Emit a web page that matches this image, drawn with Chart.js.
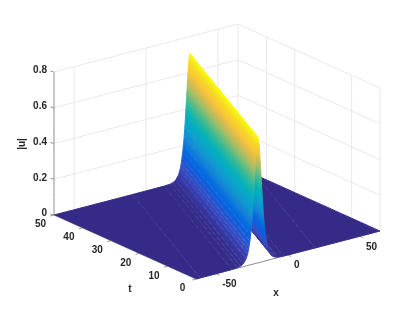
<!DOCTYPE html>
<html><head><meta charset="utf-8">
<style>html,body{margin:0;padding:0;background:#fff}canvas{display:block}</style>
<script src="https://cdn.jsdelivr.net/npm/chart.js@4"></script></head>
<body><canvas id="c" width="419" height="314"></canvas>
<script>
// axes
const xTicks=[-50,0,50];
const tTicks=[50,40,30,20,10,0];
const zTicks=[0,0.2,0.4,0.6,0.8];
const zTickLabels=['0','0.2','0.4','0.6','0.8'];
const xWallTicks=[-50,0,50];
const tWallTicks=[40,30,10];
const xRange=[-64,64];
const tRange=[0,50];
// ridge centre (x) at t=0 and t=50
const ridgeX=[-21,30.6];
// |u| across the ridge, distance from its centre (far side to near side)
const profileXi=[200,40,18,14,12,10,8,7,6.5,6,5.5,5,4.5,4,3.5,3,2.5,2,1.5,1,0.5,0,-0.5,-1,-1.5,-2,-2.5,-3,-3.5,-4,-4.5,-5,-5.5,-6,-6.5,-7,-8,-10,-12,-14,-18,-40,-200];
const profileU=[0,0,0.001,0.003,0.007,0.017,0.042,0.067,0.085,0.108,0.135,0.167,0.207,0.255,0.31,0.375,0.445,0.52,0.59,0.65,0.69,0.705,0.69,0.65,0.59,0.52,0.445,0.375,0.31,0.255,0.207,0.167,0.135,0.108,0.085,0.067,0.042,0.017,0.007,0.003,0.001,0,0];
const uMax=0.705;
// parula colormap
const parula=[[53,42,135],[54,61,174],[50,81,199],[15,92,221],[3,108,225],[20,129,214],[18,150,209],[7,166,203],[6,176,186],[37,184,160],[90,189,132],[159,190,104],[212,186,82],[254,196,55],[244,218,38],[249,251,14]];

// view
const O=[146,191], XV=[1.4375,-0.375], TV=[2.84,1.28], ZV=178.75;
const proj=(x,t,z)=>({x:O[0]+XV[0]*x+TV[0]*(50-t), y:O[1]+XV[1]*x+TV[1]*(50-t)-ZV*z});
function col(u){const f=Math.max(0,Math.min(1,u/uMax))*(parula.length-1),i=Math.min(parula.length-2,Math.floor(f)),a=f-i;
 const p=parula[i],q=parula[i+1];return 'rgb('+[0,1,2].map(k=>Math.round(p[k]+(q[k]-p[k])*a)).join(',')+')';}
const rx=t=>ridgeX[0]+(ridgeX[1]-ridgeX[0])*t/50;

// clip the band between two offsets to the domain
function band(a,b){
 let poly=[[a,tRange[0]],[b,tRange[0]],[b,tRange[1]],[a,tRange[1]]].map(([xi,t])=>({x:xi+rx(t),t,xi}));
 const clip=(pts,inside,cut)=>{const out=[];pts.forEach((p,i)=>{const q=pts[(i+1)%pts.length];const ip=inside(p),iq=inside(q);
   if(ip)out.push(p);if(ip!==iq){const k=cut(p,q);out.push({x:p.x+(q.x-p.x)*k,t:p.t+(q.t-p.t)*k,xi:p.xi+(q.xi-p.xi)*k});}});return out;};
 poly=clip(poly,p=>p.x>=xRange[0],(p,q)=>(xRange[0]-p.x)/(q.x-p.x));
 poly=clip(poly,p=>p.x<=xRange[1],(p,q)=>(xRange[1]-p.x)/(q.x-p.x));
 return poly;
}
const uAt=(xi,a,b,ua,ub)=>ua+(ub-ua)*(xi-a)/(b-a);

const canvas=document.getElementById('c'), cx=canvas.getContext('2d');
const datasets=[];
const gridColor='#e8e8e8', axisColor='#8c8c8c';
const exact=1e-6; // a tiny tension keeps Chart.js from merging nearby vertices
const seg=(a,b,c,w)=>datasets.push({data:[a,b],borderColor:c,borderWidth:w||1,pointRadius:0,fill:false,tension:exact});
// walls
zTicks.slice(1).forEach(z=>{seg(proj(xRange[0],50,z),proj(xRange[1],50,z),gridColor);seg(proj(xRange[1],50,z),proj(xRange[1],0,z),gridColor);});
xWallTicks.forEach(x=>seg(proj(x,50,0),proj(x,50,0.8),gridColor));
tWallTicks.forEach(t=>seg(proj(xRange[1],t,0),proj(xRange[1],t,0.8),gridColor));
seg(proj(xRange[1],50,0),proj(xRange[1],50,0.8),gridColor);
seg(proj(xRange[1],0,0),proj(xRange[1],0,0.8),gridColor);
// axes lines
seg(proj(xRange[0],50,0),proj(xRange[0],50,0.8),axisColor);
seg(proj(xRange[0],0,0),proj(xRange[1],0,0),axisColor);
seg(proj(xRange[0],50,0),proj(xRange[0],0,0),axisColor);
zTicks.forEach(z=>{const p=proj(xRange[0],50,z);seg(p,{x:p.x-3.6,y:p.y-1},axisColor);});
tTicks.forEach(t=>{const p=proj(xRange[0],t,0);seg(p,{x:p.x-3.6,y:p.y+1},axisColor);});
xTicks.forEach(x=>{const p=proj(x,0,0);seg(p,{x:p.x+3.2,y:p.y+1.4},axisColor);});
// surface bands, far to near
const d={x:-TV[0]+XV[0]*(ridgeX[1]-ridgeX[0])/50,y:-TV[1]+XV[1]*(ridgeX[1]-ridgeX[0])/50};
const dl=Math.hypot(d.x,d.y),n={x:-d.y/dl,y:d.x/dl};
for(let i=0;i<profileXi.length-1;i++){
 const a=profileXi[i],b=profileXi[i+1],ua=profileU[i],ub=profileU[i+1];
 const poly=band(b,a).map(p=>proj(p.x,p.t,uAt(p.xi,a,b,ua,ub)));
 if(poly.length<3)continue;
 const A=proj(a+rx(25),25,ua),B=proj(b+rx(25),25,ub);
 const s=(B.x-A.x)*n.x+(B.y-A.y)*n.y;
 const g=cx.createLinearGradient(A.x,A.y,A.x+n.x*s,A.y+n.y*s);
 g.addColorStop(0,col(ua));g.addColorStop(0.5,col((ua+ub)/2));g.addColorStop(1,col(ub));
 datasets.push({data:poly,backgroundColor:g,borderColor:g,borderWidth:1,pointRadius:0,fill:'shape',tension:exact,borderJoinStyle:'round'});
}
datasets.forEach((d,i)=>d.order=-i);

const textStyle='bold 10px "Liberation Sans"', ink='#262626';
const labels={id:'labels',afterDatasetsDraw(c){
 const g=c.ctx,sx=c.scales.x,sy=c.scales.y;
 const put=(txt,x,y,al,rot)=>{g.save();g.translate(sx.getPixelForValue(x),sy.getPixelForValue(y));if(rot)g.rotate(rot);g.textAlign=al||'center';g.textBaseline='middle';g.fillText(txt,0,0);g.restore();};
 g.save();g.font=textStyle;g.fillStyle=ink;
 zTicks.forEach((z,i)=>{const p=proj(xRange[0],50,z);put(zTickLabels[i],p.x-7,p.y-1.5,'right');});
 tTicks.forEach(t=>{const p=proj(xRange[0],t,0);put(String(t),p.x-13.5,p.y+9.7);});
 xTicks.forEach(x=>{const p=proj(x,0,0);put(String(x),p.x+6,p.y+10.5,'left');});
 put('x',276,293);put('t',130,289);put('|u|',22.5,144,'center',-Math.PI/2);
 g.restore();
}};
new Chart(canvas,{type:'line',data:{datasets},plugins:[labels],options:{
 responsive:false,animation:false,events:[],clip:false,
 layout:{padding:0},
 elements:{line:{capBezierPoints:false}},
 plugins:{legend:{display:false},title:{display:false},tooltip:{enabled:false}},
 scales:{x:{type:'linear',display:false,min:0,max:419},y:{type:'linear',display:false,min:0,max:314,reverse:true}}
}});
</script></body></html>
